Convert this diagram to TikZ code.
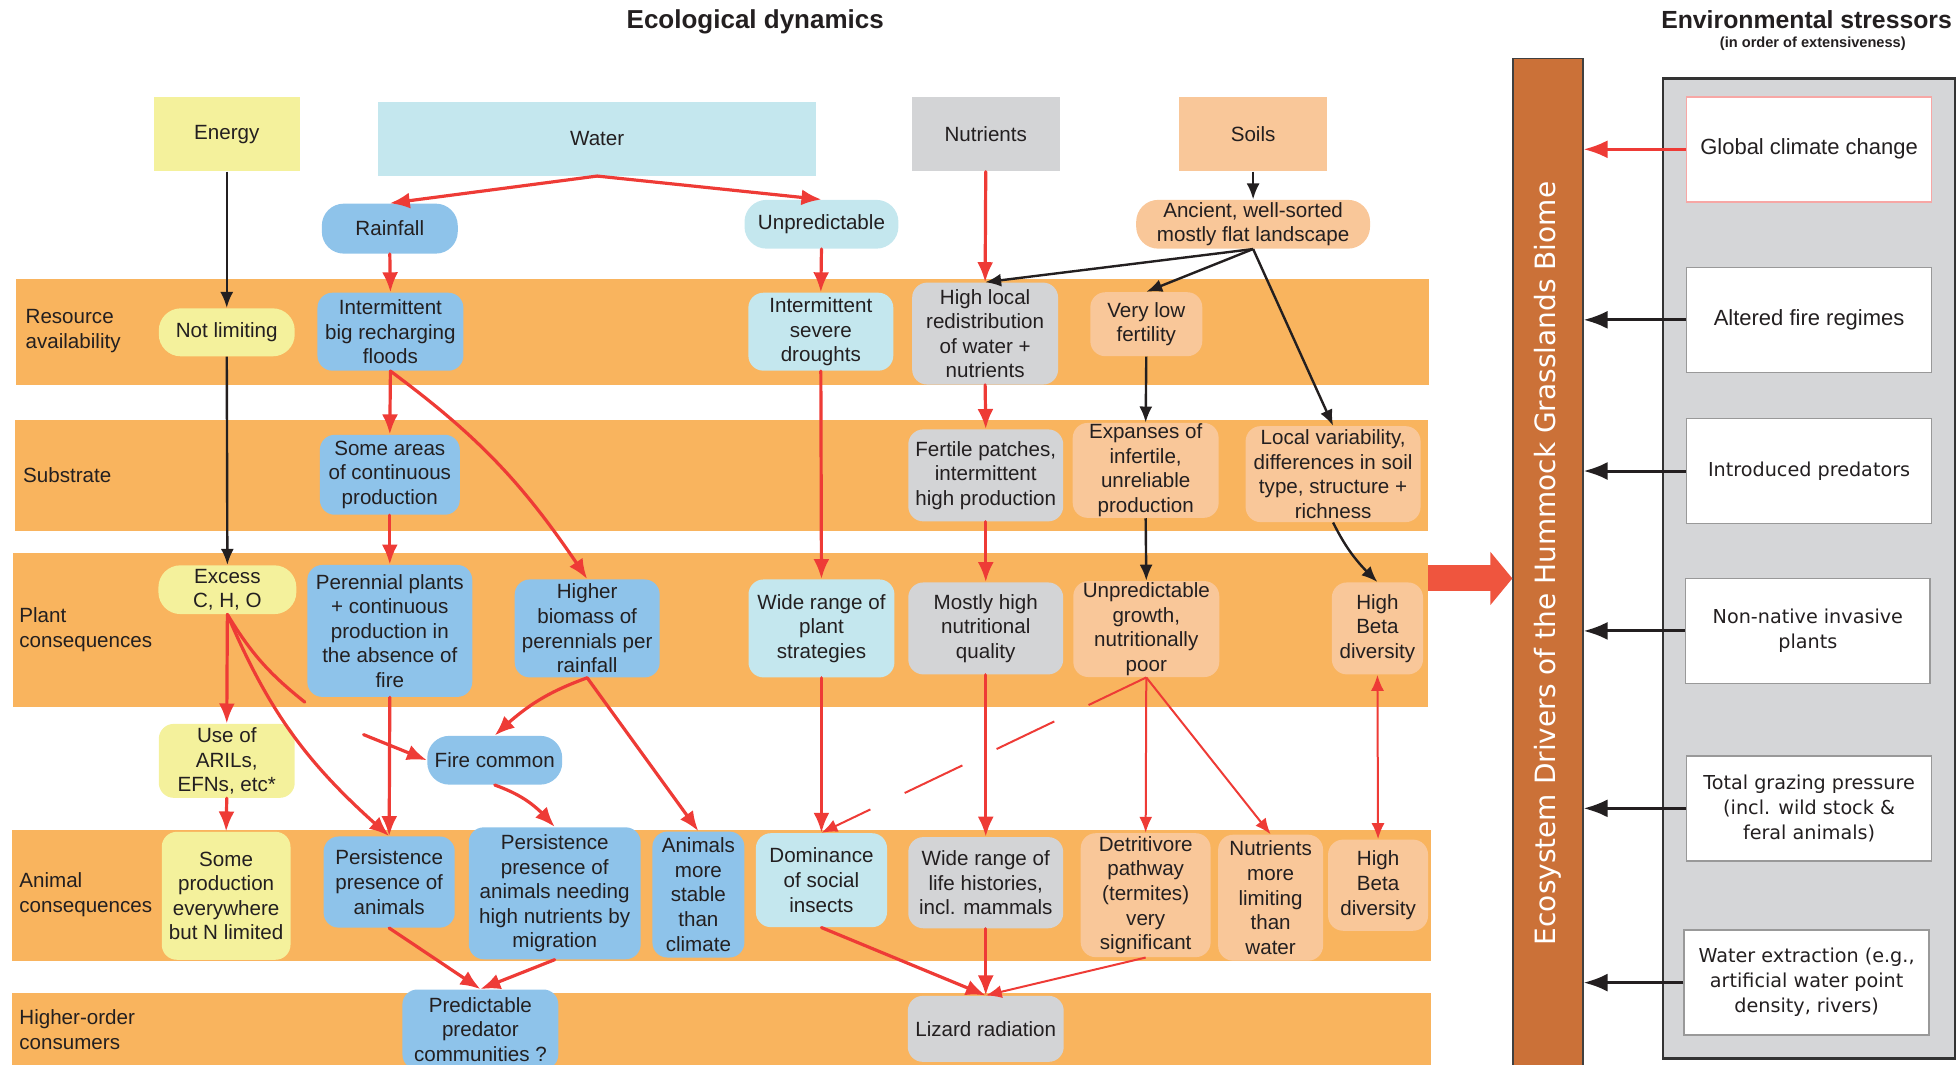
\documentclass[tikz,border=0pt]{standalone}
\usepackage{fontspec}
\setmainfont{Liberation Sans}
\newfontfamily\verafont{DejaVu Sans}
\usetikzlibrary{arrows.meta,bending}

\definecolor{bandorange}{RGB}{249,180,94}
\definecolor{rainblue}{RGB}{142,195,234}
\definecolor{palecyan}{RGB}{196,231,238}
\definecolor{nutgray}{RGB}{211,212,214}
\definecolor{soilpeach}{RGB}{249,199,153}
\definecolor{energyyellow}{RGB}{244,241,156}
\definecolor{arrowred}{RGB}{238,59,54}
\definecolor{driverbrown}{RGB}{203,113,56}
\definecolor{panelgray}{RGB}{213,214,216}
\definecolor{blockred}{RGB}{239,85,62}
\definecolor{inktext}{RGB}{35,31,32}

\begin{document}
\begin{tikzpicture}[x=0.625pt,y=-0.625pt]
 \tikzstyle{band}=[fill=bandorange,draw=none,inner sep=0pt]
 \tikzstyle{driverbox}=[draw=none,inner sep=0pt,text=inktext,font=\fontsize{10.3}{12.3}\selectfont]
 \tikzstyle{factor}=[rounded corners=7.5pt,inner sep=0.5pt,align=center,text=inktext,font=\fontsize{10.3}{12.3}\selectfont]
 \tikzstyle{rowlabel}=[anchor=west,align=left,inner sep=2pt,text=inktext,font=\fontsize{10.3}{12.3}\selectfont]
 \tikzstyle{titletext}=[inner sep=0pt,text=inktext]
 \tikzstyle{stressor}=[draw=black!40,fill=white,line width=0.8pt,minimum width=122.5pt,minimum height=52.5pt,align=center,text=inktext]
 \tikzstyle{vera}=[font=\verafont\fontsize{9.6}{12.5}\selectfont]
 \tikzstyle{redarrow}=[draw=arrowred,line width=1.6pt,line cap=round,-{Latex[length=10pt,width=8pt]}]
 \tikzstyle{thinred}=[draw=arrowred,line width=1pt,-{Latex[length=8pt,width=6.5pt]}]
 \tikzstyle{blackarrow}=[draw=inktext,line width=1.2pt,-{Latex[length=8pt,width=6.5pt]}]
 \tikzstyle{stressarrow}=[draw=inktext,line width=1.5pt,-{Latex[length=12pt,width=9pt]}]
\useasboundingbox (0,0) rectangle (1568,852);

\node[band,minimum width=707pt,minimum height=53pt] (resband) at (578.5,265.5) {};
\node[band,minimum width=707pt,minimum height=55.6pt] (subband) at (577.5,380.5) {};
\node[band,minimum width=708pt,minimum height=77pt] (plantband) at (576.5,504.5) {};
\node[band,minimum width=709.4pt,minimum height=65.6pt] (animalband) at (577.5,716.5) {};
\node[band,minimum width=709.4pt,minimum height=47pt] (higherband) at (577.5,832.5) {};

\node[titletext,font=\bfseries\fontsize{13}{15}\selectfont] (ecotitle) at (604.5,17.5) {Ecological dynamics};
\node[titletext,font=\bfseries\fontsize{12.4}{14}\selectfont] (stresstitle) at (1446,16) {Environmental stressors};
\node[titletext,font=\bfseries\fontsize{7.3}{9}\selectfont] (stresssub) at (1451,35) {(in order of extensiveness)};

\node[rowlabel] (lblresource) at (17,265) {Resource\\availability};
\node[rowlabel] (lblsubstrate) at (15,380) {Substrate};
\node[rowlabel] (lblplant) at (12,504) {Plant\\consequences};
\node[rowlabel] (lblanimal) at (12,716) {Animal\\consequences};
\node[rowlabel] (lblhigher) at (12,824) {Higher-order\\consumers};

\node[driverbox,fill=energyyellow,minimum width=73pt,minimum height=37pt] (energy) at (181.5,107.5) {Energy};
\node[driverbox,fill=palecyan,minimum width=219pt,minimum height=37pt] (water) at (478,111) {Water};
\node[driverbox,fill=nutgray,minimum width=74pt,minimum height=37pt] (nutrients) at (789,107.5) {Nutrients};
\node[driverbox,fill=soilpeach,minimum width=74pt,minimum height=37pt] (soils) at (1003,107.5) {Soils};

\node[factor,fill=rainblue,rounded corners=11pt,minimum width=68pt,minimum height=25pt] (rainfall) at (312,183) {Rainfall};
\node[factor,fill=palecyan,rounded corners=11pt,minimum width=77pt,minimum height=24.4pt] (unpred) at (657.5,179.5) {Unpredictable};
\node[factor,fill=soilpeach,rounded corners=11pt,minimum width=117pt,minimum height=24.4pt] (ancient) at (1003,179.5) {Ancient, well-sorted\\mostly flat landscape};

\node[factor,fill=energyyellow,rounded corners=11pt,minimum width=68pt,minimum height=24pt] (notlim) at (181.5,266) {Not limiting};
\node[factor,fill=rainblue,minimum width=73pt,minimum height=39pt] (floods) at (312.5,265.5) {Intermittent\\big recharging\\floods};
\node[factor,fill=palecyan,minimum width=72.5pt,minimum height=39pt] (droughts) at (657,265.5) {Intermittent\\severe\\droughts};
\node[factor,fill=nutgray,minimum width=73pt,minimum height=51pt] (redistrib) at (788.5,267) {High local\\redistribution\\of water +\\nutrients};
\node[factor,fill=soilpeach,minimum width=56pt,minimum height=32pt] (verylow) at (917.5,259.5) {Very low\\fertility};

\node[factor,fill=rainblue,minimum width=70pt,minimum height=40pt] (someareas) at (312,380) {Some areas\\of continuous\\production};
\node[factor,fill=nutgray,minimum width=77.5pt,minimum height=46pt] (fertile) at (789,380.5) {Fertile patches,\\intermittent\\high production};
\node[factor,fill=soilpeach,minimum width=73pt,minimum height=47pt] (expanses) at (917,376.5) {Expanses of\\infertile,\\unreliable\\production};
\node[factor,fill=soilpeach,minimum width=87.5pt,minimum height=48pt] (localvar) at (1067,379.5) {Local variability,\\differences in soil\\type, structure +\\richness};

\node[factor,fill=energyyellow,rounded corners=11pt,minimum width=69pt,minimum height=24.4pt] (excess) at (182,472) {Excess\\C, H, O};
\node[factor,fill=rainblue,minimum width=82.5pt,minimum height=66pt] (perennial) at (312,505) {Perennial plants\\+ continuous\\production in\\the absence of\\fire};
\node[factor,fill=rainblue,minimum width=72.5pt,minimum height=49pt] (higher) at (470,503) {Higher\\biomass of\\perennials per\\rainfall};
\node[factor,fill=palecyan,minimum width=73pt,minimum height=49pt] (widerange) at (657.5,503) {Wide range of\\plant\\strategies};
\node[factor,fill=nutgray,minimum width=77.5pt,minimum height=46pt] (mostly) at (789,503) {Mostly high\\nutritional\\quality};
\node[factor,fill=soilpeach,minimum width=73pt,minimum height=48pt] (unpredgrowth) at (917.5,503.5) {Unpredictable\\growth,\\nutritionally\\poor};
\node[factor,fill=soilpeach,minimum width=45.6pt,minimum height=46pt] (highbetaplant) at (1102.5,503) {High\\Beta\\diversity};

\node[factor,fill=energyyellow,minimum width=68pt,minimum height=37pt] (arils) at (181.5,609) {Use of\\ARILs,\\EFNs, etc*};
\node[factor,fill=rainblue,rounded corners=11pt,minimum width=67.5pt,minimum height=24.4pt] (firecommon) at (396,608.5) {Fire common};

\node[factor,fill=energyyellow,minimum width=64.4pt,minimum height=64pt] (someprod) at (181,717) {Some\\production\\everywhere\\but N limited};
\node[factor,fill=rainblue,minimum width=65.6pt,minimum height=45.6pt] (persistplain) at (311.5,706) {Persistence\\presence of\\animals};
\node[factor,fill=rainblue,minimum width=86pt,minimum height=66pt] (persistmigr) at (444,715) {Persistence\\presence of\\animals needing\\high nutrients by\\migration};
\node[factor,fill=rainblue,minimum width=46pt,minimum height=63pt] (stableanimals) at (559,716) {Animals\\more\\stable\\than\\climate};
\node[factor,fill=palecyan,minimum width=65.6pt,minimum height=47pt] (dominance) at (657.5,704.5) {Dominance\\of social\\insects};
\node[factor,fill=nutgray,minimum width=77.5pt,minimum height=45.6pt] (lifehist) at (789,706.5) {Wide range of\\life histories,\\incl. mammals};
\node[factor,fill=soilpeach,minimum width=65pt,minimum height=62pt] (detritivore) at (917,716.5) {Detritivore\\pathway\\(termites)\\very\\significant};
\node[factor,fill=soilpeach,minimum width=52.5pt,minimum height=63pt] (nutrlimit) at (1017,718.5) {Nutrients\\more\\limiting\\than\\water};
\node[factor,fill=soilpeach,minimum width=50pt,minimum height=45.6pt] (highbetaanimal) at (1103,708.5) {High\\Beta\\diversity};

\node[factor,fill=rainblue,minimum width=78pt,minimum height=40pt] (predictable) at (384.5,824) {Predictable\\predator\\communities ?};
\node[factor,fill=nutgray,minimum width=78pt,minimum height=33pt] (lizard) at (789,823.5) {Lizard radiation};

\node[draw=black!75,fill=driverbrown,line width=0.6pt,minimum width=35pt,minimum height=508pt,inner sep=0pt] (drivers) at (1239,453.5) {};
\node[rotate=90,text=white,inner sep=0pt,font=\verafont\fontsize{14}{16}\selectfont] (driverstitle) at (1238.5,451) {Ecosystem Drivers of the Hummock Grasslands Biome};
\node[draw=black!80,fill=panelgray,line width=1.3pt,minimum width=146pt,minimum height=490pt,inner sep=0pt] (panel) at (1448,455) {};

\node[stressor,draw=arrowred!45,font=\fontsize{11}{13}\selectfont] (climate) at (1448,119.5) {Global climate change};
\node[stressor,font=\fontsize{11}{13}\selectfont] (fire) at (1448,256) {Altered fire regimes};
\node[stressor,vera] (predators) at (1448,377) {Introduced predators};
\node[stressor,vera] (invasives) at (1447,505) {Non-native invasive\\plants};
\node[stressor,vera] (grazing) at (1448,647) {Total grazing pressure\\(incl. wild stock \&\\feral animals)};
\node[stressor,vera] (extraction) at (1446,786.5) {Water extraction (e.g.,\\artificial water point\\density, rivers)};

\coordinate (bigtail) at (1143,463);
\coordinate (firegapa) at (244,562);
\coordinate (firegapb) at (291,588);

\draw[line width=13pt,draw=blockred,-{Triangle[length=11pt,width=26pt]}] (bigtail) -- (bigtail -| drivers.west);

\draw[stressarrow,draw=arrowred] (climate.west) -- (climate.west -| drivers.east);
\draw[stressarrow] (fire.west) -- (fire.west -| drivers.east);
\draw[stressarrow] (predators.west) -- (predators.west -| drivers.east);
\draw[stressarrow] (invasives.west) -- (invasives.west -| drivers.east);
\draw[stressarrow] (grazing.west) -- (grazing.west -| drivers.east);
\draw[stressarrow] (extraction.west) -- (extraction.west -| drivers.east);

\draw[blackarrow] (energy.south) -- (notlim.north);
\draw[blackarrow] (notlim.south) -- (excess.north);
\draw[blackarrow] (soils.south) -- (ancient.north);
\draw[blackarrow] (ancient.south) -- (redistrib.north);
\draw[blackarrow] (ancient.south) -- (verylow.north);
\draw[blackarrow] (ancient.south) -- (localvar.north);
\draw[blackarrow] (verylow.south) -- (expanses.north);
\draw[blackarrow] (expanses.south) -- (unpredgrowth.north);
\draw[blackarrow] (localvar.south) to[bend right=10] (highbetaplant.north);

\draw[redarrow] (water.south) -- (rainfall.north);
\draw[redarrow] (water.south) -- (unpred.north);
\draw[redarrow] (nutrients.south) -- (redistrib.north);
\draw[redarrow] (rainfall.south) -- (floods.north);
\draw[redarrow] (unpred.south) -- (droughts.north);
\draw[redarrow] (floods.south) -- (someareas.north);
\draw[redarrow] (floods.south) to[bend left=10] (higher.north);
\draw[redarrow] (someareas.south) -- (perennial.north);
\draw[redarrow] (droughts.south) -- (widerange.north);
\draw[redarrow] (redistrib.south) -- (fertile.north);
\draw[redarrow] (fertile.south) -- (mostly.north);
\draw[redarrow] (excess.south) -- (arils.north);
\draw[redarrow] (arils.south) -- (someprod.north);
\draw[redarrow] (excess.south) to[bend right=13] (persistplain.north);
\draw[redarrow,-] (excess.south) to[bend right=10] (firegapa);
\draw[redarrow] (firegapb) -- (firecommon.west);
\draw[redarrow] (perennial.south) -- (persistplain.north);
\draw[redarrow] (higher.south) to[bend right=12] (firecommon.north);
\draw[redarrow] (higher.south) -- (stableanimals.north);
\draw[redarrow] (firecommon.south) to[bend left=15] (persistmigr.north);
\draw[redarrow] (persistplain.south) -- (predictable.north);
\draw[redarrow] (persistmigr.south) -- (predictable.north);
\draw[redarrow] (widerange.south) -- (dominance.north);
\draw[redarrow] (mostly.south) -- (lifehist.north);
\draw[redarrow] (dominance.south) -- (lizard.north);
\draw[redarrow] (lifehist.south) -- (lizard.north);

\draw[thinred] (unpredgrowth.south) -- (detritivore.north);
\draw[thinred] (unpredgrowth.south) -- (nutrlimit.north);
\draw[thinred,dash pattern=on 32pt off 19pt] (unpredgrowth.south) -- (dominance.north);
\draw[thinred] (detritivore.south) -- (lizard.north);
\draw[thinred,{Latex[length=8pt,width=6.5pt]}-{Latex[length=8pt,width=6.5pt]}] (highbetaplant.south) -- (highbetaanimal.north);
\end{tikzpicture}
\end{document}
